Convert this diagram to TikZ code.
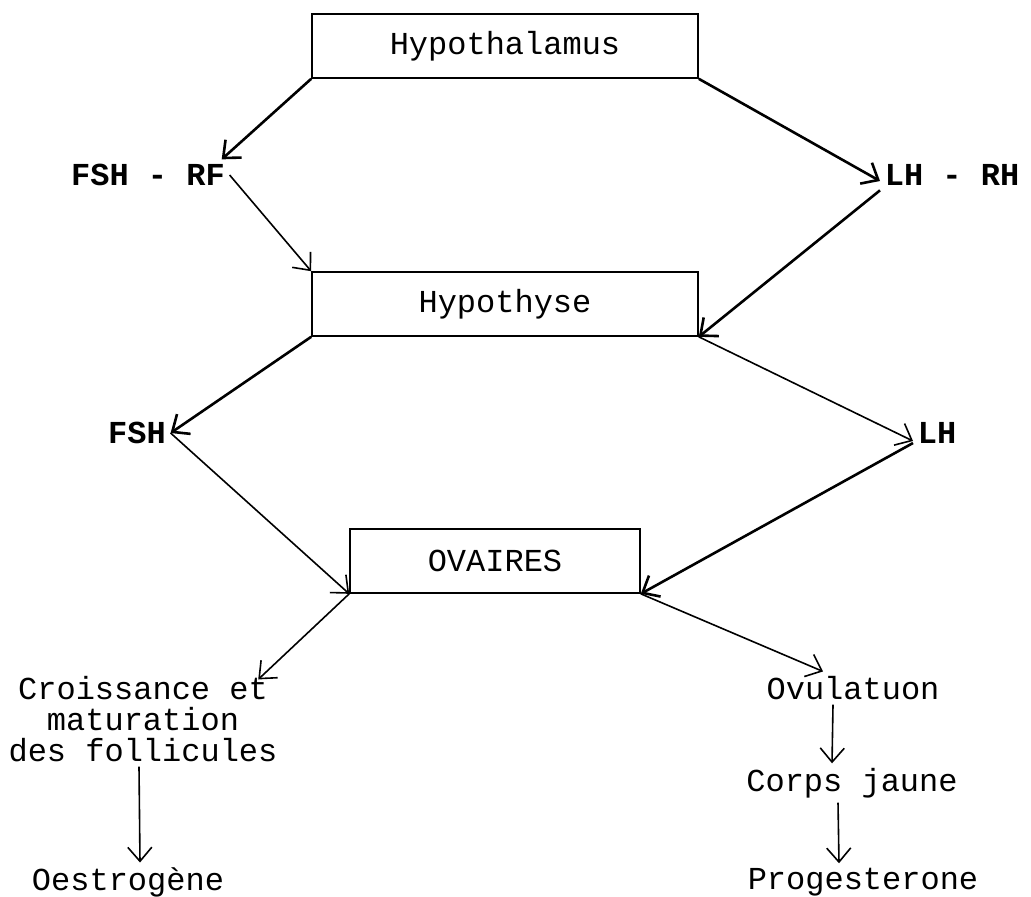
\documentclass[tikz,border=0pt]{standalone}
\usepackage{fontspec}
\setmainfont{Liberation Mono}
\usetikzlibrary{arrows.meta}

\tikzset{
    organ/.style={draw, line width=0.8pt, minimum height=32pt, font=\fontsize{16}{18}\selectfont},
    hormone/.style={font=\fontsize{16}{18}\selectfont\bfseries, inner sep=2pt},
    effect/.style={font=\fontsize{16}{15.5}\selectfont, align=center, inner sep=2pt},
    heavy/.style={line width=1.3pt}
}

\begin{document}
\begin{tikzpicture}[x=0.5pt, y=-0.5pt, >={Straight Barb[length=7pt,width=12pt]}, line width=0.8pt]
    \useasboundingbox (0,0) rectangle (1031,896);
    % Nodes {glandes, hormones, effets}
    \node [organ, minimum width=193pt] (hypoth) at (505,46)  {Hypothalamus};
    \node [organ, minimum width=193pt] (hypoph) at (505,304) {Hypothyse};
    \node [organ, minimum width=145pt] (ovaire) at (495,561) {OVAIRES};
    \node [hormone] (fshrf) at (148,175) {FSH - RF};
    \node [hormone] (lhrh)  at (952,175) {LH - RH};
    \node [hormone] (fsh)   at (137,433) {FSH};
    \node [hormone] (lh)    at (937,433) {LH};
    \node [effect]  (croiss) at (143,719) {Croissance et\\maturation\\des follicules};
    \node [effect]  (oestro) at (128,882) {Oestrogène};
    \node [effect]  (ovul)   at (853,688) {Ovulatuon};
    \node [effect]  (corps)  at (852,783) {Corps jaune};
    \node [effect]  (proges) at (863,882) {Progesterone};

    % Paths
    \path [->, heavy] (hypoth.south west) edge (fshrf.12);
    \path [->]        (fshrf.east)        edge (hypoph.north west);
    \path [->, heavy] (hypoth.south east) edge ([yshift=-3pt]lhrh.west);
    \path [->, heavy] (lhrh.south west)   edge (hypoph.south east);
    \path [->, heavy] (hypoph.south west) edge (fsh.east);
    \path [->]        (fsh.east)          edge (ovaire.south west);
    \path [->]        (hypoph.south east) edge ([yshift=-4pt]lh.west);
    \path [->, heavy] ([yshift=-5pt]lh.west) edge (ovaire.south east);
    \path [->]        (ovaire.south west) edge ([xshift=-12pt,yshift=-4pt]croiss.north east);
    \path [->]        (ovaire.south east) edge ([xshift=-15pt]ovul.north);
    \path [->]        ([xshift=-2pt]croiss.south) edge ([xshift=6pt]oestro.north);
    \path [->]        ([xshift=-10pt]ovul.south)  edge ([xshift=-10pt]corps.north);
    \path [->]        ([xshift=-7pt]corps.south)  edge ([xshift=-12pt]proges.north);
\end{tikzpicture}
\end{document}
